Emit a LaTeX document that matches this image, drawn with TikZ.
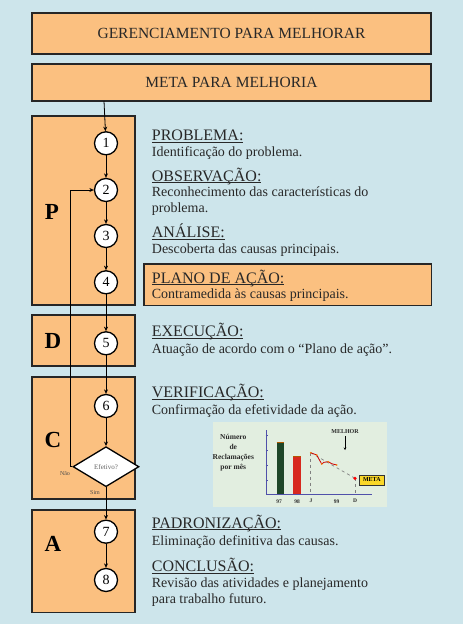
\documentclass[tikz,border=0pt]{standalone}
\usepackage{fontspec}
\setmainfont{Liberation Serif}
\usetikzlibrary{shapes.geometric,arrows.meta}
\definecolor{bgc}{RGB}{205,229,235}
\definecolor{orf}{RGB}{251,192,128}
\definecolor{chbg}{RGB}{226,238,224}
\definecolor{barG}{RGB}{30,70,40}
\definecolor{barR}{RGB}{215,40,30}
\definecolor{axc}{RGB}{80,80,170}
\definecolor{metaY}{RGB}{250,215,40}
\definecolor{txt}{RGB}{40,40,40}
\newcommand\hul[1]{\setbox0\hbox{#1}\rlap{\rule[-1.8pt]{\wd0}{0.7pt}}\box0}
\tikzset{
  box/.style={draw=black!85, line width=1.2pt, fill=orf, inner sep=0pt},
  num/.style={circle, draw=black, line width=1.3pt, fill=white, minimum size=23pt, inner sep=0pt, font=\fontsize{14}{14}\selectfont},
  head/.style={anchor=base west, inner sep=0pt, text=txt, font=\fontsize{16}{16}\selectfont},
  body/.style={anchor=base west, inner sep=0pt, text=txt, font=\fontsize{14}{14}\selectfont},
  letter/.style={inner sep=0pt, font=\fontsize{23}{23}\selectfont\bfseries},
  conn/.style={-{Stealth[length=4.5pt,width=4pt]}, line width=0.8pt},
  tiny/.style={inner sep=0pt, text=txt, font=\fontsize{6}{6}\selectfont},
}
\begin{document}
\begin{tikzpicture}[x=1pt,y=-1pt]
\fill[bgc] (0,0) rectangle (463,624);
\useasboundingbox (0,0) rectangle (463,624);

% top boxes
\node[box, minimum width=399pt, minimum height=41pt, font=\fontsize{15.5}{15.5}\selectfont, text=txt] (title) at (231.5,33.5) {GERENCIAMENTO PARA MELHORAR};
\node[box, minimum width=399pt, minimum height=37pt, font=\fontsize{15.5}{15.5}\selectfont, text=txt] (meta) at (231.5,82.5) {META PARA MELHORIA};

% PDCA boxes
\node[box, minimum width=103pt, minimum height=189pt] (boxP) at (83.5,210.5) {};
\node[box, minimum width=103pt, minimum height=51pt] (boxD) at (83.5,340.5) {};
\node[box, minimum width=103pt, minimum height=122pt] (boxC) at (83.5,438) {};
\node[box, minimum width=103pt, minimum height=102.7pt] (boxA) at (83.5,561.3) {};
\node[box, minimum width=287.7pt, minimum height=41.7pt] (plano) at (287.8,284.8) {};

\node[letter] (lP) at (52,212) {P};
\node[letter] (lD) at (53,340.5) {D};
\node[letter] (lC) at (53,440) {C};
\node[letter] (lA) at (53,543.5) {A};

% circles
\node[num] (c1) at (106,143.3) {1};
\node[num] (c2) at (106,190) {2};
\node[num] (c3) at (106,236) {3};
\node[num] (c4) at (106,282.3) {4};
\node[num] (c5) at (106,343.3) {5};
\node[num] (c6) at (106,406) {6};
\node[diamond, draw=black, line width=1.3pt, fill=white, minimum width=66pt, minimum height=40pt, inner sep=0pt, text=black!60, font=\fontsize{7}{7}\selectfont] (dia) at (106,466.7) {Efetivo?};
\node[num] (c7) at (106,531.7) {7};
\node[num] (c8) at (106,580) {8};
\node[tiny, text=black!70] (nao) at (65,474) {Não};
\node[tiny, text=black!70] (sim) at (95,492.7) {Sim};

% connectors
\coordinate (mbot) at (104,101);
\draw[conn] (mbot) -- (c1);
\draw[conn] (c1) -- (c2);
\draw[conn] (c2) -- (c3);
\draw[conn] (c3) -- (c4);
\draw[conn] (c4) -- (c5);
\draw[conn] (c5) -- (c6);
\draw[conn] (c6) -- (dia);
\draw[conn] (dia) -- (c7);
\draw[conn] (c7) -- (c8);
\draw[conn] (dia.west) -- ++(-2,0) |- (c2.west);

% texts
\node[head] (h1) at (151.7,140.7) {\hul{PROBLEMA:}};
\node[body] (b1) at (151.7,156.7) {Identificação do problema.};
\node[head] (h2) at (151.7,181) {\hul{OBSERVAÇÃO:}};
\node[body] (b2) at (151.7,196.7) {Reconhecimento das características do};
\node[body] (b2b) at (151.7,212.3) {problema.};
\node[head] (h3) at (151.7,237.7) {\hul{ANÁLISE:}};
\node[body] (b3) at (151.7,253.3) {Descoberta das causas principais.};
\node[head] (h4) at (151.7,283.3) {\hul{PLANO DE AÇÃO:}};
\node[body] (b4) at (151.7,298.7) {Contramedida às causas principais.};
\node[head] (h5) at (151.7,336.7) {\hul{EXECUÇÃO:}};
\node[body] (b5) at (151.7,353.3) {Atuação de acordo com o “Plano de ação”.};
\node[head] (h6) at (151.7,397.7) {\hul{VERIFICAÇÃO:}};
\node[body] (b6) at (151.7,414) {Confirmação da efetividade da ação.};
\node[head] (h7) at (151.7,528.3) {\hul{PADRONIZAÇÃO:}};
\node[body] (b7) at (151.7,545) {Eliminação definitiva das causas.};
\node[head] (h8) at (151.7,571.7) {\hul{CONCLUSÃO:}};
\node[body] (b8) at (151.7,587.3) {Revisão das atividades e planejamento};
\node[body] (b8b) at (151.7,603.3) {para trabalho futuro.};

% chart
\fill[chbg] (213,422) rectangle (387,507);
\fill[barG] (276.7,442.7) rectangle (284,494.3);
\draw[orange!70!black, line width=0.5pt] (276.7,442.7) -- (284,442.7);
\fill[barR] (293.3,456) rectangle (300.7,494.3);
\draw[orange!70!black, line width=0.5pt] (293.3,456) -- (300.7,456);
\draw[axc, line width=1pt] (266.7,430) -- (266.7,494.3) -- (371.7,494.3);
\foreach \yy in {435,450,465,480} \draw[axc, line width=0.5pt] (265.5,\yy) -- (267.5,\yy);
\draw[gray, dashed, line width=0.7pt] (310.7,452.7) -- (310.7,494.3);
\draw[gray, dashed, line width=0.7pt] (355,478.3) -- (355,494.3);
\draw[gray, dashed, line width=0.7pt] (310.7,452.7) -- (355,478.3);
\draw[red!80!black, line width=0.8pt] (310.7,452.7) -- (316.7,455) -- (321.7,464) -- (324,462.3) -- (328.3,461.7) -- (331.7,463.7) -- (336.7,465);
\foreach \p in {(310.7,452.7),(316.7,455),(321.7,464),(328.3,461.7),(336.7,465)} \fill[orange] \p circle (0.9pt);
\fill[red] (355,478.3) circle (1.8pt);
\node[draw=black!80, fill=metaY, line width=0.6pt, minimum width=25pt, minimum height=10pt, inner sep=0pt, font=\fontsize{6}{6}\selectfont\bfseries] (metab) at (371.8,480) {META};
\node[tiny, font=\fontsize{6}{6}\selectfont\bfseries] (melhor) at (345,431.7) {MELHOR};
\coordinate (marr) at (345,450);
\draw[-{Stealth[length=2.5pt,width=2.5pt]}, line width=0.6pt] (melhor.south) ++(0,2) -- (marr);
\node[tiny, align=center, font=\fontsize{7.5}{10}\selectfont\bfseries] (ylab) at (233.3,453) {Número\\de\\Reclamações\\por mês};
\node[tiny, font=\fontsize{5.5}{5.5}\selectfont\bfseries] (t97) at (279,501.7) {97};
\node[tiny, font=\fontsize{5.5}{5.5}\selectfont\bfseries] (t98) at (297,501.7) {98};
\node[tiny, font=\fontsize{5.5}{5.5}\selectfont\bfseries] (tJ) at (311,500.7) {J};
\node[tiny, font=\fontsize{5.5}{5.5}\selectfont\bfseries] (t99) at (336.7,501.7) {99};
\node[tiny, font=\fontsize{5.5}{5.5}\selectfont\bfseries] (tD) at (355,500.7) {D};
\end{tikzpicture}
\end{document}
